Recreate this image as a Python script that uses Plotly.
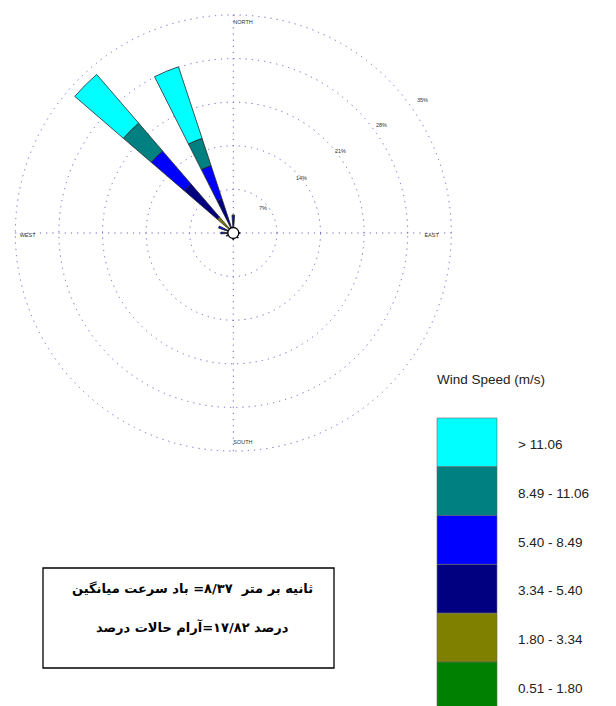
import math
import plotly.graph_objects as go

# ---- data -------------------------------------------------------------
directions = ["N", "NNE", "NE", "ENE", "E", "ESE", "SE", "SSE",
              "S", "SSW", "SW", "WSW", "W", "WNW", "NW", "NNW"]
dir_angles = [i * 22.5 for i in range(16)]

speed_classes = ["0.51 - 1.80", "1.80 - 3.34", "3.34 - 5.40",
                 "5.40 - 8.49", "8.49 - 11.06", "> 11.06"]
class_colors = ["#008000", "#808000", "#000080", "#0000FF", "#008080", "#00FFFF"]

# frequency (%) per direction for each speed class
freq_051_180 = [0.3, 0.1, 0.1, 0.1, 0.3, 0.2, 0.3, 0.2, 0.3, 0.2, 0.2, 0.3, 0.3, 0.3, 1.0, 0.3]
freq_180_334 = [0.4, 0.1, 0.1, 0.1, 0.3, 0.2, 0.3, 0.2, 0.3, 0.2, 0.2, 0.3, 0.4, 0.4, 2.4, 0.6]
freq_334_540 = [1.2, 0.1, 0.1, 0.1, 0.4, 0.3, 0.4, 0.2, 0.4, 0.2, 0.3, 0.4, 0.8, 1.0, 7.0, 4.9]
freq_540_849 = [0.9, 0.0, 0.0, 0.0, 0.1, 0.1, 0.1, 0.0, 0.1, 0.0, 0.1, 0.2, 0.5, 0.8, 7.0, 5.6]
freq_849_1106 = [0.1, 0.0, 0.0, 0.0, 0.0, 0.0, 0.0, 0.0, 0.0, 0.0, 0.0, 0.0, 0.0, 0.0, 5.9, 4.6]
freq_gt_1106 = [0.0, 0.0, 0.0, 0.0, 0.0, 0.0, 0.0, 0.0, 0.0, 0.0, 0.0, 0.0, 0.0, 0.0, 10.3, 12.1]
class_freqs = [freq_051_180, freq_180_334, freq_334_540,
               freq_540_849, freq_849_1106, freq_gt_1106]

ring_values = [7, 14, 21, 28, 35]
ring_labels = ["7%", "14%", "21%", "28%", "35%"]
compass_labels = ["NORTH", "EAST", "SOUTH", "WEST"]

legend_title = "Wind Speed (m/s)"
# note lines as word lists, left to right as they appear on the page
note_words1 = ["میانگین", "سرعت", "باد", "=۸/۳۷", "", "متر", "بر", "ثانیه"]
note_words2 = ["درصد", "حالات", "آرام=۱۷/۸۲", "درصد"]

# ---- geometry helpers -------------------------------------------------
W, H = 616, 706
R_MAX = 35.6


def px(x):
    return x / W


def py(y):
    return 1 - y / H


def visual_line(words):
    # the line is laid out right to left by the browser, so the words go in
    # reversed; a token "A=B" is stored as "B=A" so '=' stays between them
    out = []
    for w in reversed(words):
        if "=" in w:
            left, right = w.split("=", 1)
            w = right + "=" + left
        out.append(w)
    return " ".join(out)


cx, cy, rad = 233.3, 233.0, 218.0 * R_MAX / 35
px_per_pct = 218.0 / 35

fig = go.Figure()

# stacked petals, lightest speed class innermost
for name, color, vals in zip(speed_classes, class_colors, class_freqs):
    fig.add_trace(go.Barpolar(
        r=vals, theta=dir_angles, width=8.5, name=name,
        marker=dict(color=color, line=dict(color="#2a2a2a", width=0.8)),
    ))

# calm circle at the centre
fig.add_trace(go.Scatterpolar(
    r=[0], theta=[0], mode="markers",
    marker=dict(size=11, color="white", line=dict(color="black", width=1.3)),
))

# compass point labels just inside the outer ring
compass_r = [33.8, 33.0, 33.6, 34.3]
compass_theta = [0, 90, 180, 270]
compass_pos = ["middle right", "bottom left", "middle right", "bottom right"]
for lab, rr, th, pos in zip(compass_labels, compass_r, compass_theta, compass_pos):
    fig.add_trace(go.Scatterpolar(
        r=[rr], theta=[th], mode="text", text=[lab], textposition=pos,
        cliponaxis=False,
        textfont=dict(size=5.5, color="#333333", family="Liberation Sans"),
    ))

grid_style = dict(gridcolor="#6464cc", gridwidth=1.2, griddash="1.2px,5px")

fig.update_layout(
    width=W, height=H,
    margin=dict(l=0, r=0, t=0, b=0),
    paper_bgcolor="white",
    showlegend=False,
    polar=dict(
        domain=dict(x=[px(cx - rad), px(cx + rad)], y=[py(cy + rad), py(cy - rad)]),
        bgcolor="white",
        barmode="stack",
        radialaxis=dict(range=[0, R_MAX], tickvals=ring_values, showticklabels=False,
                        ticks="", showline=False, **grid_style),
        angularaxis=dict(rotation=90, direction="clockwise",
                         tickvals=[0, 90, 180, 270], showticklabels=False,
                         ticks="", showline=False, **grid_style),
    ),
)

shapes = []
annotations = []

# ring percentage labels fanning out along a diagonal, just outside each ring
for val, lab in zip(ring_values, ring_labels):
    d = 6.88 * val - 9.8
    ang = math.radians(50.5 + (val - 7) / 28 * 4.7)
    annotations.append(dict(x=px(cx + d * math.sin(ang)),
                            y=py(cy - d * math.cos(ang) - 1),
                            xref="paper", yref="paper", showarrow=False, text=lab,
                            xanchor="center", yanchor="middle",
                            font=dict(size=5.5, color="#333333", family="Liberation Sans")))

# ---- colour key ---------------------------------------------------------
box_x0, box_x1 = 437, 497
box_top, box_h = 418, 48.8
for i, (name, color) in enumerate(zip(reversed(speed_classes), reversed(class_colors))):
    y0 = box_top + i * box_h
    shapes.append(dict(type="rect", xref="paper", yref="paper",
                       x0=px(box_x0), x1=px(box_x1), y0=py(y0 + box_h), y1=py(y0),
                       fillcolor=color, line=dict(color="#666666", width=0.6)))
    annotations.append(dict(x=px(516), y=py(y0 + box_h / 2 + 2), xref="paper", yref="paper",
                            xanchor="left", yanchor="middle", showarrow=False, text=name,
                            font=dict(size=13.5, color="#222222", family="Liberation Sans")))

annotations.append(dict(x=px(435), y=py(379), xref="paper", yref="paper",
                        xanchor="left", yanchor="middle", showarrow=False, text=legend_title,
                        font=dict(size=13.5, color="#222222", family="Liberation Sans")))

# ---- note box -----------------------------------------------------------
shapes.append(dict(type="rect", xref="paper", yref="paper",
                   x0=px(43), x1=px(334), y0=py(668), y1=py(568),
                   fillcolor="white", line=dict(color="black", width=1.3)))
for words, yy in [(note_words1, 588), (note_words2, 627)]:
    annotations.append(dict(x=px(192), y=py(yy), xref="paper", yref="paper",
                            xanchor="center", yanchor="middle", showarrow=False,
                            text="<b>" + visual_line(words) + "</b>",
                            font=dict(size=13, color="black", family="DejaVu Sans")))

fig.update_layout(shapes=shapes, annotations=annotations)

fig.write_html("out.html")
